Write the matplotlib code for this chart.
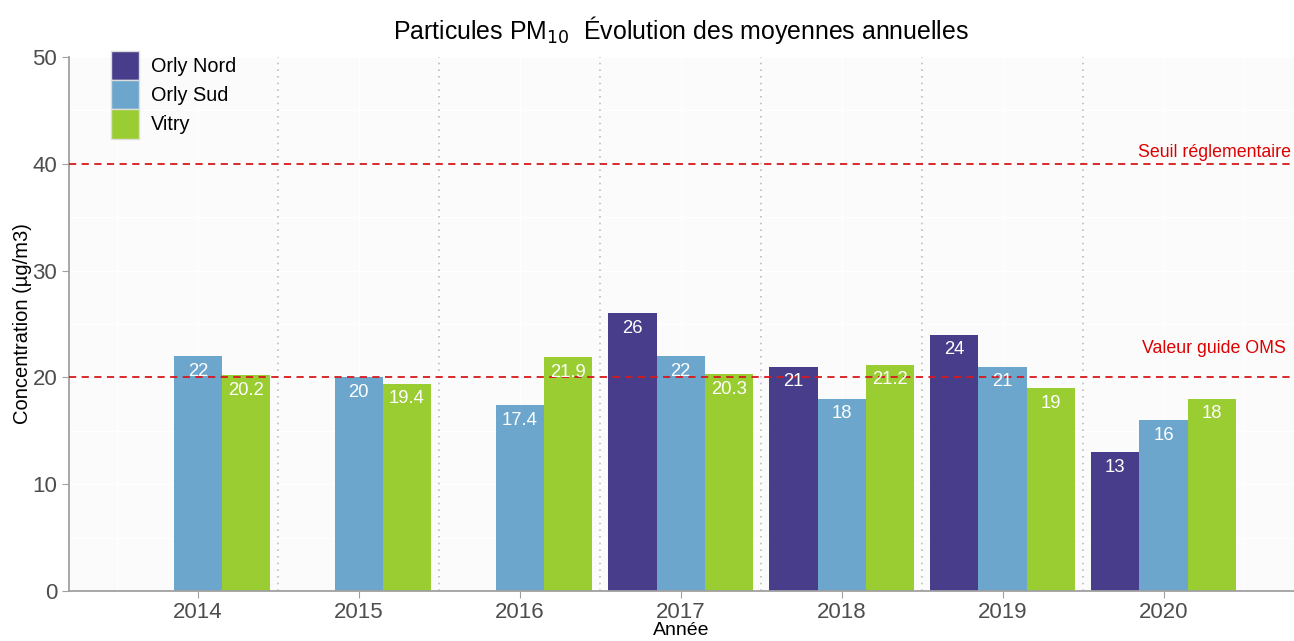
import numpy as np
import matplotlib.pyplot as plt

plt.rcParams['font.family'] = ['Liberation Sans', 'DejaVu Sans']

years = ['2014', '2015', '2016', '2017', '2018', '2019', '2020']
stations = ['Orly Nord', 'Orly Sud', 'Vitry']
orly_nord = [np.nan, np.nan, np.nan, 26, 21, 24, 13]
orly_sud = [22, 20, 17.4, 22, 18, 21, 16]
vitry = [20.2, 19.4, 21.9, 20.3, 21.2, 19, 18]
colors = ['#483D8B', '#6CA6CD', '#9ACD32']
seuil = 40
oms = 20

fig = plt.figure(figsize=(12.94, 6.41), dpi=100)
ax = fig.add_axes([0.0533, 0.078, 0.9467, 0.833])
ax.set_facecolor('#FBFBFB')

x = np.arange(len(years))
w = 0.3
for i, (name, vals) in enumerate(zip(stations, [orly_nord, orly_sud, vitry])):
    pos = x + (i - 1) * w
    ax.bar(pos, vals, width=w, color=colors[i], label=name, zorder=2)
    for p, v in zip(pos, vals):
        if np.isnan(v):
            continue
        ax.text(p, v - 1.4, f'{v:g}', ha='center', va='center', color='white',
                fontsize=13.3, zorder=4)

for b in np.arange(0.5, len(years) - 1, 1):
    ax.axvline(b, color='#BDBDBD', linestyle=(0, (1, 3)), linewidth=1.2, zorder=1)

ax.axhline(seuil, color='#D7191C', linestyle=(0, (4, 3)), linewidth=1.3, zorder=3)
ax.axhline(oms, color='#D7191C', linestyle=(0, (4, 3)), linewidth=1.3, zorder=3)
ax.text(6.79, seuil + 0.3, 'Seuil réglementaire', color='#DD0000', fontsize=12.8,
        ha='right', va='bottom')
ax.text(6.76, 22.7, 'Valeur guide OMS', color='#DD0000', fontsize=12.8,
        ha='right', va='center')

ax.set_xlim(-0.8, 6.81)
ax.set_ylim(0, 50)
ax.set_xticks(x)
ax.set_xticklabels(years)
ax.set_yticks([0, 10, 20, 30, 40, 50])
ax.set_yticks([5, 15, 25, 35, 45], minor=True)
ax.set_xticks(np.arange(-0.5, 7, 1), minor=True)
ax.grid(True, which='both', color='white', linewidth=1, zorder=0)
ax.set_axisbelow(True)
ax.tick_params(axis='both', which='major', labelsize=16, colors='#A0A0A0',
               labelcolor='#4D4D4D', length=5)
ax.tick_params(axis='x', which='major', pad=3)
ax.tick_params(axis='both', which='minor', length=0)
for s in ['top', 'right']:
    ax.spines[s].set_visible(False)
for s in ['left', 'bottom']:
    ax.spines[s].set_color('#A0A0A0')
    ax.spines[s].set_linewidth(1.3)

ax.set_ylabel('Concentration (µg/m3)', fontsize=14.5, labelpad=0)
ax.set_xlabel('Année', fontsize=14, labelpad=-1)
ax.set_title('Particules PM$_{10}$  Évolution des moyennes annuelles',
             fontsize=17.9, pad=13)

leg = ax.legend(loc='upper left', bbox_to_anchor=(0.034, 1.012), frameon=False,
                fontsize=14.3, labelspacing=0.0, handlelength=1.45,
                handleheight=1.9, handletextpad=0.6, borderpad=0,
                borderaxespad=0)
for h in leg.legend_handles:
    h.set_edgecolor('#DDDDDD')
    h.set_linewidth(1)

fig.savefig('out.png', dpi=100)
